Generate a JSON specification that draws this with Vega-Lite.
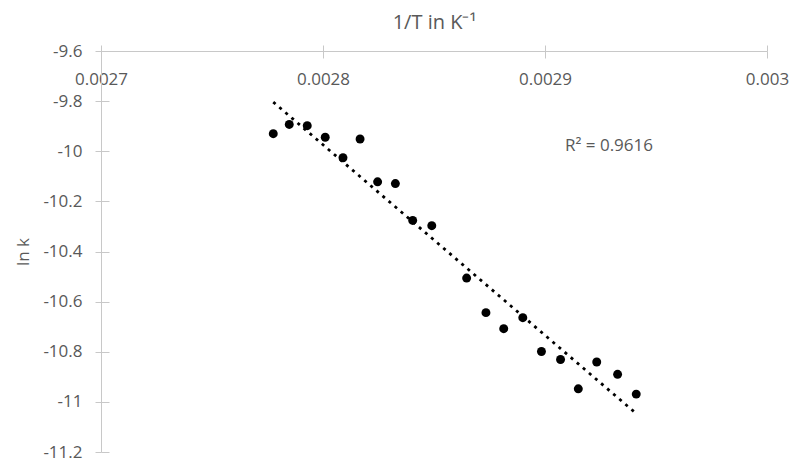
{
  "$schema": "https://vega.github.io/schema/vega-lite/v6.json",
  "width": 666,
  "height": 401,
  "autosize": "none",
  "padding": {"left": 101, "top": 51, "right": 25, "bottom": 11},
  "background": "white",
  "config": {
    "view": {"stroke": null},
    "font": "Open Sans",
    "axis": {
      "domainColor": "#c8c8c8",
      "tickColor": "#c8c8c8",
      "labelColor": "#595959",
      "titleColor": "#595959",
      "labelFont": "Open Sans",
      "titleFont": "Open Sans",
      "labelFontSize": 17,
      "grid": false,
      "titleFontWeight": "normal",
      "labelFlush": false,
      "labelOverlap": false
    }
  },
  "data": {
    "values": [
      {"x": 0.0027776, "lnk": -9.930},
      {"x": 0.0027848, "lnk": -9.893},
      {"x": 0.0027929, "lnk": -9.898},
      {"x": 0.0028010, "lnk": -9.944},
      {"x": 0.0028090, "lnk": -10.026},
      {"x": 0.0028167, "lnk": -9.951},
      {"x": 0.0028246, "lnk": -10.122},
      {"x": 0.0028326, "lnk": -10.129},
      {"x": 0.0028404, "lnk": -10.276},
      {"x": 0.0028490, "lnk": -10.297},
      {"x": 0.0028647, "lnk": -10.506},
      {"x": 0.0028734, "lnk": -10.644},
      {"x": 0.0028814, "lnk": -10.708},
      {"x": 0.0028900, "lnk": -10.664},
      {"x": 0.0028984, "lnk": -10.799},
      {"x": 0.0029070, "lnk": -10.831},
      {"x": 0.0029150, "lnk": -10.948},
      {"x": 0.0029233, "lnk": -10.841},
      {"x": 0.0029327, "lnk": -10.890},
      {"x": 0.0029411, "lnk": -10.969}
    ]
  },
  "resolve": {"axis": {"x": "independent", "y": "independent"}},
  "layer": [
    {
      "transform": [{"regression": "lnk", "on": "x"}],
      "mark": {"type": "line", "color": "black", "strokeWidth": 2.8, "strokeDash": [3, 5], "strokeCap": "butt"},
      "encoding": {
        "x": {
          "field": "x", "type": "quantitative",
          "scale": {"domain": [0.0027, 0.003], "nice": false, "zero": false},
          "axis": {
            "orient": "bottom", "offset": -401, "title": null,
            "values": [0.0027, 0.0028, 0.0029, 0.003],
            "labelExpr": "toString(datum.value)",
            "labelAlign": "center",
            "tickSize": 7, "labelPadding": 13, "domain": true
          }
        },
        "y": {
          "field": "lnk", "type": "quantitative",
          "scale": {"domain": [-11.2, -9.6], "nice": false, "zero": false},
          "axis": {
            "orient": "right", "offset": -666, "title": null,
            "values": [-9.6, -9.8, -10, -10.2, -10.4, -10.6, -10.8, -11, -11.2],
            "labels": false, "tickSize": 8, "domain": false
          }
        }
      }
    },
    {
      "mark": {"type": "circle", "color": "black", "opacity": 1, "size": 80},
      "encoding": {
        "x": {
          "field": "x", "type": "quantitative",
          "axis": {
            "orient": "top", "title": "1/T in K⁻¹", "titleFontSize": 20,
            "values": [0.0027, 0.0028, 0.0029, 0.003],
            "labels": false, "tickSize": 6, "titlePadding": 12, "domain": false
          }
        },
        "y": {
          "field": "lnk", "type": "quantitative",
          "axis": {
            "orient": "left", "title": "ln k", "titleFontSize": 17,
            "values": [-9.6, -9.8, -10, -10.2, -10.4, -10.6, -10.8, -11, -11.2],
            "labelExpr": "toString(datum.value)",
            "tickSize": 6, "labelPadding": 13, "titlePadding": 10, "domain": true
          }
        }
      }
    },
    {
      "data": {"values": [{"x": 0.002909, "y": -9.979, "label": "R² = 0.9616"}]},
      "mark": {"type": "text", "align": "left", "baseline": "middle", "fontSize": 17, "color": "#595959", "font": "Open Sans"},
      "encoding": {
        "x": {"field": "x", "type": "quantitative", "axis": null},
        "y": {"field": "y", "type": "quantitative", "axis": null},
        "text": {"field": "label"}
      }
    }
  ]
}
